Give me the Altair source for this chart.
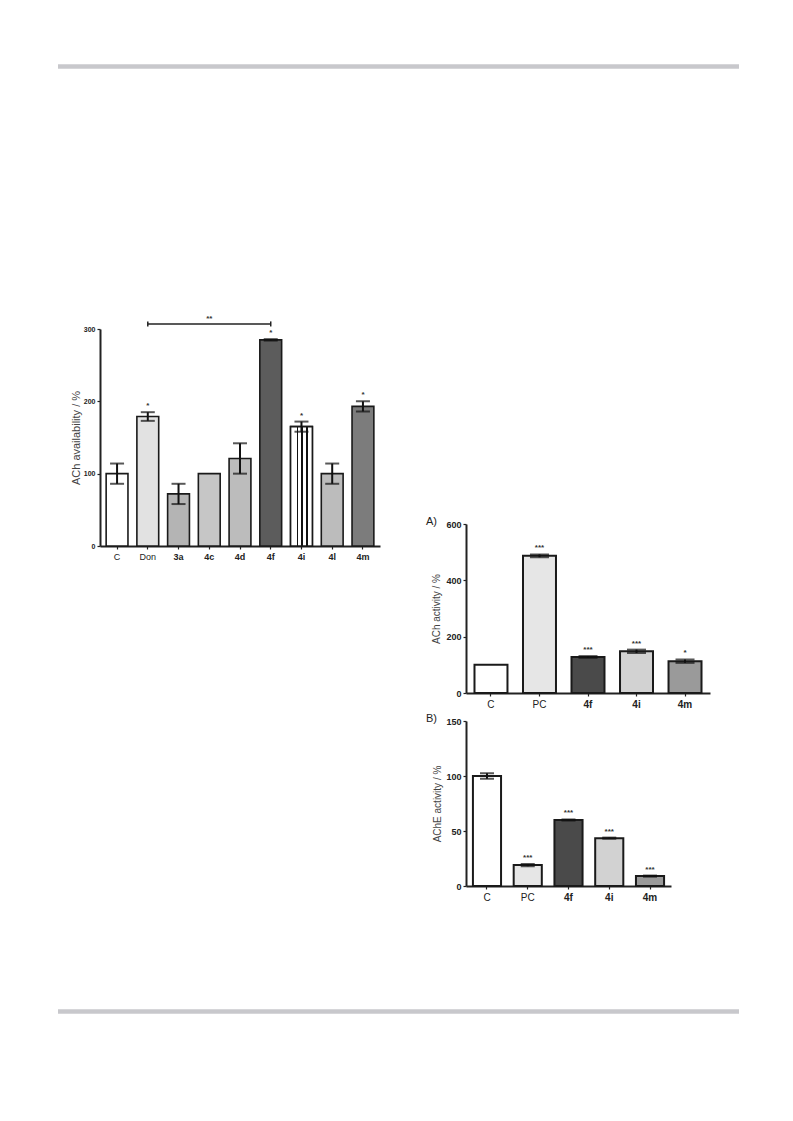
import altair as alt
import pandas as pd

# ---------------- data ----------------
left_cats = ["C", "Don", "3a", "4c", "4d", "4f", "4i", "4l", "4m"]
left_vals = [100, 179, 72, 100, 121, 285, 165, 100, 193]
left_errs = [14, 6, 14, 0, 21, 1, 7, 14, 7]
left_sig = ["", "*", "", "", "", "*", "*", "", "*"]
left_bracket = ["Don", "4f", "4c", 307, "**"]  # from, to, label position, level, text

a_cats = ["C", "PC", "4f", "4i", "4m"]
a_vals = [100, 487, 128, 148, 113]
a_errs = [0, 5, 3, 6, 6]
a_sig = ["", "***", "***", "***", "*"]

b_cats = ["C", "PC", "4f", "4i", "4m"]
b_vals = [100, 19, 60, 43.5, 9]
b_errs = [2.5, 1, 0.5, 0.5, 0.5]
b_sig = ["", "***", "***", "***", "***"]

# ---------------- styles ----------------
left_fill = ["#ffffff", "#e2e2e2", "#b4b4b4", "#c6c6c6", "#bcbcbc", "#5c5c5c", "#ffffff", "#bcbcbc", "#7c7c7c"]
right_fill = ["#ffffff", "#e6e6e6", "#4a4a4a", "#d2d2d2", "#9a9a9a"]
FONT = "Liberation Sans"
BOLD_NUM = {"expr": "test(/^[0-9]/, datum.label) ? 'bold' : 'normal'"}

stripes = {
    "gradient": "linear", "x1": 0, "x2": 1, "y1": 0, "y2": 0,
    "stops": [
        {"offset": 0.0, "color": "#ffffff"}, {"offset": 0.28, "color": "#ffffff"},
        {"offset": 0.28, "color": "#111111"}, {"offset": 0.36, "color": "#111111"},
        {"offset": 0.36, "color": "#ffffff"}, {"offset": 0.50, "color": "#ffffff"},
        {"offset": 0.50, "color": "#111111"}, {"offset": 0.58, "color": "#111111"},
        {"offset": 0.58, "color": "#ffffff"}, {"offset": 0.73, "color": "#ffffff"},
        {"offset": 0.73, "color": "#111111"}, {"offset": 0.81, "color": "#111111"},
        {"offset": 0.81, "color": "#ffffff"}, {"offset": 1.0, "color": "#ffffff"},
    ],
}


def make_df(cats, vals, errs, sig, fills):
    df = pd.DataFrame({"cat": cats, "val": vals, "err": errs, "sig": sig, "fill": fills})
    df["lo"] = df["val"] - df["err"]
    df["hi"] = df["val"] + df["err"]
    return df


def panel(df, cats, width, height, ymax, yvals, ytitle, pin, pout,
          cap, ylabsize, xlabsize, sigsize, stroke_w, tpad, tsize, tag=None, striped=None):
    xenc = alt.X("cat:N", sort=cats, title=None,
                 scale=alt.Scale(domain=cats, paddingInner=pin, paddingOuter=pout),
                 axis=alt.Axis(labelAngle=0, labelFont=FONT, labelFontSize=xlabsize,
                               labelColor="#222", labelFontWeight=BOLD_NUM,
                               domainColor="#222", domainWidth=2, tickColor="#222",
                               tickSize=3, tickWidth=1.2, labelPadding=3))
    yscale = alt.Scale(domain=[0, ymax], nice=False, zero=True)
    yax = alt.Axis(values=yvals, format="d", labelFont=FONT, labelFontSize=ylabsize,
                   labelFontWeight="bold", labelColor="#222", domainColor="#222",
                   domainWidth=2, tickColor="#222", tickSize=3, tickWidth=1.2,
                   grid=False, title=ytitle, titleFont=FONT, titleFontSize=tsize,
                   titleFontWeight="normal", titleColor="#444", titlePadding=tpad,
                   labelPadding=2)
    base = alt.Chart(df)
    bars = base.mark_bar(stroke="#1a1a1a", strokeWidth=stroke_w).encode(
        x=xenc,
        y=alt.Y("val:Q", scale=yscale, axis=yax),
        fill=alt.Fill("fill:N", scale=None),
    )
    layers = [bars]
    if striped:
        layers.append(
            base.transform_filter(alt.FieldOneOfPredicate(field="cat", oneOf=striped))
            .mark_bar(fill=stripes, stroke="#1a1a1a", strokeWidth=stroke_w)
            .encode(x=alt.X("cat:N", sort=cats), y=alt.Y("val:Q"))
        )
    eb = base.transform_filter("datum.err > 0")
    layers.append(eb.mark_rule(color="#111", strokeWidth=2).encode(
        x=alt.X("cat:N", sort=cats), y="lo:Q", y2="hi:Q"))
    layers.append(eb.mark_tick(color="#111", size=cap, thickness=2).encode(
        x=alt.X("cat:N", sort=cats), y="lo:Q"))
    layers.append(eb.mark_tick(color="#111", size=cap, thickness=2).encode(
        x=alt.X("cat:N", sort=cats), y="hi:Q"))
    layers.append(base.mark_text(font=FONT, fontSize=sigsize, fontWeight="bold",
                                 color="#333", baseline="bottom", dy=-2).encode(
        x=alt.X("cat:N", sort=cats), y="hi:Q", text="sig:N"))
    if tag:
        layers.append(base.transform_filter("datum.cat == '%s'" % cats[0]).mark_text(
            font=FONT, fontSize=11, color="#222", align="left", baseline="middle",
            text=tag).encode(x=alt.value(-40), y=alt.value(-2)))
    return alt.layer(*layers).properties(width=width, height=height)


dfL = make_df(left_cats, left_vals, left_errs, left_sig, left_fill)
left = panel(dfL, left_cats, 280, 217, 300, [0, 100, 200, 300],
             "ACh availability / %", 0.29, 0.2, 14, 7, 9, 8, 1.6, 2, 11, striped=["4i"])

br = pd.DataFrame({"a": [left_bracket[0]], "b": [left_bracket[1]],
                   "mid": [left_bracket[2]], "lev": [left_bracket[3]],
                   "t": [left_bracket[4]]})
br["lev_lo"] = br["lev"] - 3.5
br["lev_hi"] = br["lev"] + 3.5
bbase = alt.Chart(br)
bracket = alt.layer(
    bbase.mark_rule(color="#222", strokeWidth=1.5).encode(
        x=alt.X("a:N", sort=left_cats), x2="b:N", y="lev:Q"),
    bbase.mark_rule(color="#222", strokeWidth=1.5).encode(
        x=alt.X("a:N", sort=left_cats), y="lev_lo:Q", y2="lev_hi:Q"),
    bbase.mark_rule(color="#222", strokeWidth=1.5).encode(
        x=alt.X("b:N", sort=left_cats), y="lev_lo:Q", y2="lev_hi:Q"),
    bbase.mark_text(font=FONT, fontSize=8, fontWeight="bold", color="#333",
                    baseline="bottom", dy=-1).encode(
        x=alt.X("mid:N", sort=left_cats), y="lev:Q", text="t:N"),
)
left = alt.layer(left, bracket)

dfA = make_df(a_cats, a_vals, a_errs, a_sig, right_fill)
chartA = panel(dfA, a_cats, 244, 169, 600, [0, 200, 400, 600],
               "ACh activity / %", 0.32, 0.175, 19, 9, 10, 8, 2, 4, 10, tag="A)")
dfB = make_df(b_cats, b_vals, b_errs, b_sig, right_fill)
chartB = panel(dfB, b_cats, 205, 165, 150, [0, 50, 100, 150],
               "AChE activity / %", 0.31, 0.17, 14, 9, 10, 8, 2, 3, 10, tag="B)")


def spacer(w, h):
    return alt.Chart(pd.DataFrame({"v": [0]})).mark_point(size=0, opacity=0).encode(
        x=alt.X("v:Q", axis=None), y=alt.Y("v:Q", axis=None)).properties(width=w, height=h)


def hline():
    return alt.Chart(pd.DataFrame({"v": [0]})).mark_rule(
        color="#c8c8cc", strokeWidth=4.5).encode(
        x=alt.value(-42), x2=alt.value(639), y=alt.value(2.5)).properties(width=1, height=5)


right_col = alt.vconcat(spacer(10, 183), chartA, chartB, spacing=4)
main = alt.hconcat(left, right_col, spacing=46)
chart = alt.vconcat(hline(), spacer(1, 245), main, spacer(1, 107), hline(),
                    spacing=0).properties(
    padding={"left": 47, "top": 56, "right": 0, "bottom": 0}
).configure(background="white", view={"stroke": "transparent", "strokeWidth": 0})

chart.save("out.html", embed_options={"renderer": "svg", "actions": False})
